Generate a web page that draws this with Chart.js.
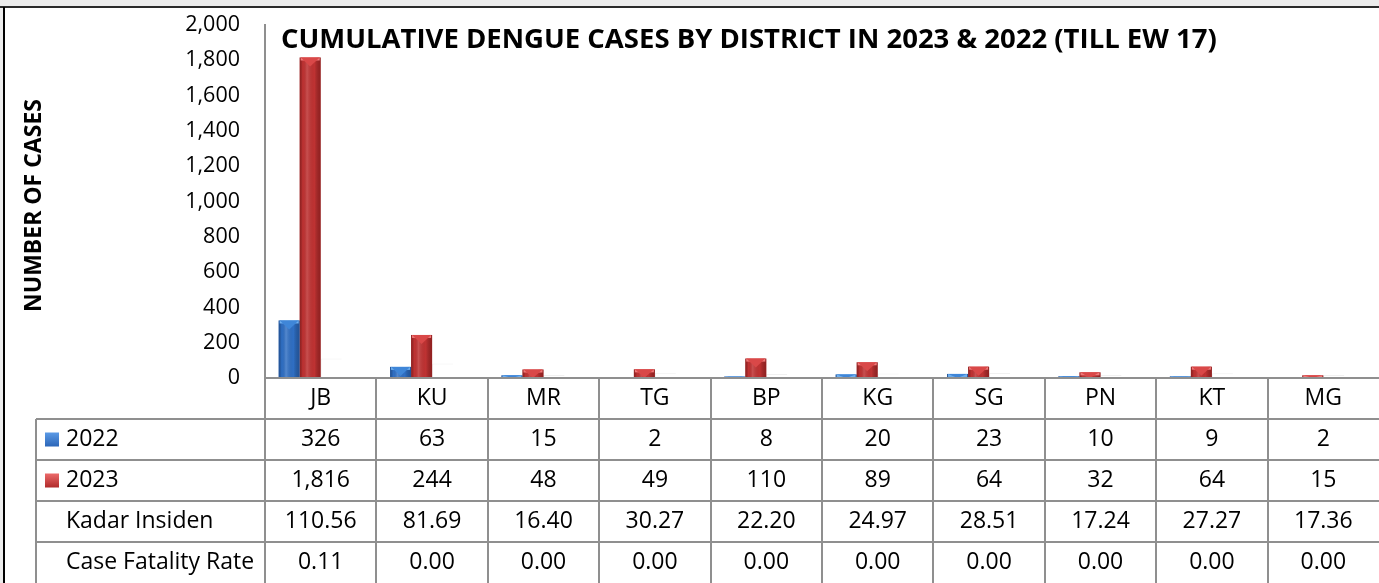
<!DOCTYPE html>
<html>
<head>
<meta charset="utf-8">
<script src="https://cdn.jsdelivr.net/npm/chart.js@4"></script>
<style>
  html, body { margin: 0; padding: 0; background: #ffffff; }
  #caixa { width: 1379px; height: 583px; position: relative; }
</style>
</head>
<body>
<div id="caixa"><canvas id="grafico" width="1379" height="583"></canvas></div>
<script>
// dados do gráfico
const distritos = ['JB', 'KU', 'MR', 'TG', 'BP', 'KG', 'SG', 'PN', 'KT', 'MG'];
const casos2022 = [326, 63, 15, 2, 8, 20, 23, 10, 9, 2];
const casos2023 = [1816, 244, 48, 49, 110, 89, 64, 32, 64, 15];
const kadarInsiden = [110.56, 81.69, 16.40, 30.27, 22.20, 24.97, 28.51, 17.24, 27.27, 17.36];
const taxaFatalidade = [0.11, 0.00, 0.00, 0.00, 0.00, 0.00, 0.00, 0.00, 0.00, 0.00];
const eixoMax = 2000;
const eixoPasso = 200;

const fonte = '"Open Sans", Lato, sans-serif';
const corLinha = '#8f8f8f';

// linhas da tabela embaixo do gráfico
const linhasTabela = [
  { nome: '2022', valores: casos2022, fmt: v => v.toLocaleString('en-US'), chave: ['#5b9ae6', '#2c66b8'] },
  { nome: '2023', valores: casos2023, fmt: v => v.toLocaleString('en-US'), chave: ['#ec6a6a', '#b02a2a'] },
  { nome: 'Kadar Insiden', valores: kadarInsiden, fmt: v => v.toFixed(2) },
  { nome: 'Case Fatality Rate', valores: taxaFatalidade, fmt: v => v.toFixed(2) }
];

// moldura cinza/preta do print original
const moldura = {
  id: 'moldura',
  beforeDraw(chart) {
    const c = chart.ctx;
    c.save();
    c.fillStyle = '#ececec';
    c.fillRect(0, 0, chart.width, 7);
    c.fillRect(0, 0, 3, chart.height);
    c.fillStyle = '#2b2b2b';
    c.fillRect(0, 6, chart.width, 2);
    c.fillStyle = '#000000';
    c.fillRect(3, 7, 2, chart.height);
    c.restore();
  }
};

// brilho 3D das barras e tampa chanfrada
const efeitoBarras = {
  id: 'efeitoBarras',
  afterDatasetsDraw(chart) {
    const c = chart.ctx;
    [0, 1].forEach(i => {
      const meta = chart.getDatasetMeta(i);
      const tons = i === 0
        ? { borda: 'rgba(20,50,100,0.45)', luz: 'rgba(255,255,255,0.18)', tampa: '#6fb0f0', bico: '#3f86d8' }
        : { borda: 'rgba(90,10,10,0.45)', luz: 'rgba(255,255,255,0.15)', tampa: '#f07a7a', bico: '#d94848' };
      meta.data.forEach(bar => {
        const x0 = bar.x - bar.width / 2, x1 = bar.x + bar.width / 2;
        const h = bar.base - bar.y;
        if (h <= 0) return;
        const g = c.createLinearGradient(x0, 0, x1, 0);
        g.addColorStop(0, tons.borda);
        g.addColorStop(0.15, 'rgba(0,0,0,0)');
        g.addColorStop(0.35, tons.luz);
        g.addColorStop(0.7, 'rgba(0,0,0,0)');
        g.addColorStop(1, tons.borda);
        c.save();
        c.fillStyle = g;
        c.fillRect(x0, bar.y, bar.width, h);
        const t = Math.min(9, h);
        c.fillStyle = tons.tampa;
        c.fillRect(x0 + 1, bar.y, bar.width - 2, Math.min(3, t));
        c.fillStyle = tons.bico;
        c.beginPath();
        c.moveTo(x0 + 1, bar.y);
        c.lineTo(x1 - 1, bar.y);
        c.lineTo(bar.x, bar.y + t);
        c.closePath();
        c.fill();
        c.restore();
      });
    });
  }
};

// título, nome do eixo e tabela de dados desenhados sobre o gráfico
const tabelaDados = {
  id: 'tabelaDados',
  afterDraw(chart) {
    const c = chart.ctx;
    const area = chart.chartArea;
    const escX = chart.scales.x;
    const larg = (area.right - area.left) / distritos.length;
    const altLinha = (chart.height - area.bottom) / 5;
    const esquerdaTab = 36;

    c.save();
    // título
    c.fillStyle = '#000';
    c.font = 'bold 27.5px ' + fonte;
    c.textAlign = 'left';
    c.textBaseline = 'middle';
    c.fillText('CUMULATIVE DENGUE CASES BY DISTRICT IN 2023 & 2022 (TILL EW 17)', area.left + 16, area.top + 15);

    // nome do eixo y
    c.save();
    c.translate(34, (area.top + area.bottom) / 2 + 4);
    c.rotate(-Math.PI / 2);
    c.textAlign = 'center';
    c.font = 'bold 23px ' + fonte;
    c.fillText('NUMBER OF CASES', 0, 0);
    c.restore();

    c.strokeStyle = corLinha;
    c.lineWidth = 2;
    // linha do zero
    c.beginPath();
    c.moveTo(area.left, area.bottom);
    c.lineTo(area.right, area.bottom);
    // linhas horizontais da tabela
    for (let r = 1; r <= 4; r++) {
      const y = Math.round(area.bottom + r * altLinha);
      c.moveTo(esquerdaTab, y);
      c.lineTo(area.right, y);
    }
    // linhas verticais
    c.moveTo(esquerdaTab, area.bottom + altLinha);
    c.lineTo(esquerdaTab, chart.height);
    distritos.forEach((d, i) => {
      const xb = Math.round(escX.getPixelForValue(i) - larg / 2);
      c.moveTo(xb, area.bottom);
      c.lineTo(xb, chart.height);
    });
    c.stroke();

    // rótulos das categorias
    c.font = '23px ' + fonte;
    c.textAlign = 'center';
    distritos.forEach((d, i) => {
      c.fillText(d, escX.getPixelForValue(i), area.bottom + altLinha / 2);
    });

    // linhas de valores
    linhasTabela.forEach((linha, r) => {
      const yc = area.bottom + (r + 1.5) * altLinha;
      if (linha.chave) {
        const g = c.createLinearGradient(0, yc - 7, 0, yc + 7);
        g.addColorStop(0, linha.chave[0]);
        g.addColorStop(1, linha.chave[1]);
        c.fillStyle = g;
        c.fillRect(45, yc - 7, 14, 14);
      }
      c.fillStyle = '#000';
      c.textAlign = 'left';
      c.fillText(linha.nome, 66, yc);
      c.textAlign = 'center';
      linha.valores.forEach((v, i) => {
        c.fillText(linha.fmt(v), escX.getPixelForValue(i), yc);
      });
    });
    c.restore();
  }
};

const ctx = document.getElementById('grafico').getContext('2d');
const grafico = new Chart(ctx, {
  type: 'bar',
  data: {
    labels: distritos,
    datasets: [
      { label: '2022', data: casos2022, backgroundColor: '#2f6fc4' },
      { label: '2023', data: casos2023, backgroundColor: '#bf3232' },
      { label: 'Kadar Insiden', data: kadarInsiden, backgroundColor: '#ffffff', borderColor: '#f1f1f1', borderWidth: { left: 1, top: 1, right: 0, bottom: 0 } },
      { label: 'Case Fatality Rate', data: taxaFatalidade, backgroundColor: '#ffffff' }
    ]
  },
  options: {
    responsive: false,
    animation: false,
    events: [],
    layout: { padding: { left: 0, right: 0, top: 25, bottom: 205 } },
    plugins: { legend: { display: false }, tooltip: { enabled: false }, title: { display: false } },
    datasets: { bar: { categoryPercentage: 0.755, barPercentage: 1 } },
    scales: {
      x: { display: false },
      y: {
        min: 0,
        max: eixoMax,
        // largura fixa do eixo e sem folga extra em cima
        afterFit: (s) => { s.width = 265; s.paddingTop = 0; s.paddingBottom = 0; },
        ticks: {
          stepSize: eixoPasso,
          padding: 25,
          color: '#000',
          font: { family: fonte, size: 21.5 },
          callback: v => v.toLocaleString('en-US')
        },
        grid: { display: false, drawTicks: false },
        border: { display: true, color: corLinha, width: 2 }
      }
    }
  },
  plugins: [moldura, efeitoBarras, tabelaDados]
});
</script>
</body>
</html>
